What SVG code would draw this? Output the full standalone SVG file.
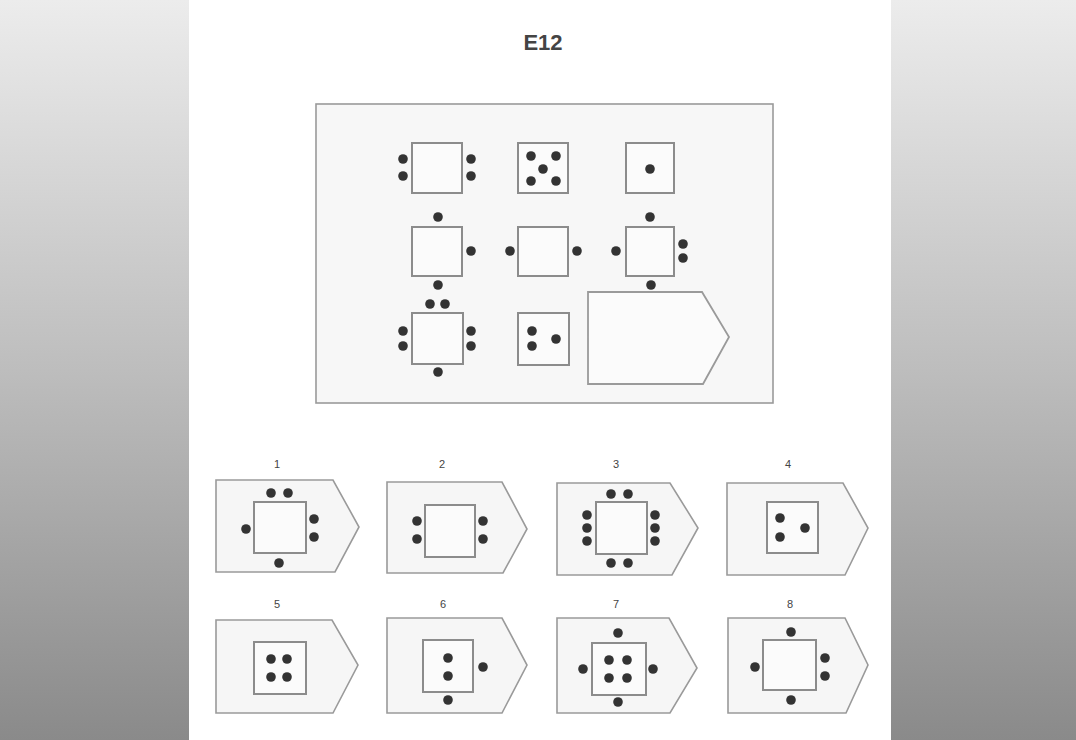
<svg xmlns="http://www.w3.org/2000/svg" width="1076" height="740" viewBox="0 0 1076 740">
<defs>
<linearGradient id="bg" x1="0" y1="0" x2="0" y2="1">
<stop offset="0" stop-color="#ececec"/>
<stop offset="0.5" stop-color="#bdbdbd"/>
<stop offset="1" stop-color="#8a8a8a"/>
</linearGradient>
<style>
.sq{fill:#fbfbfb;stroke:#8c8c8c;stroke-width:2}
.pent{fill:#f6f6f6;stroke:#9a9a9a;stroke-width:1.6}
.d{fill:#333}
.lbl{font-family:"Liberation Sans",Arial,sans-serif;font-size:11px;fill:#444;text-anchor:middle}
</style>
</defs>
<rect x="0" y="0" width="1076" height="740" fill="url(#bg)"/>
<rect x="189" y="0" width="702" height="740" fill="#ffffff"/>
<text x="543" y="50" font-family="Liberation Sans,Arial,sans-serif" font-size="22" font-weight="bold" fill="#444" text-anchor="middle">E12</text>

<g id="matrix">
<rect x="316" y="104" width="457" height="299" fill="#f7f7f7" stroke="#9a9a9a" stroke-width="1.6"/>
</g>
<g id="m1">
<rect class="sq" x="412" y="143" width="50" height="50"/>
<circle class="d" cx="403" cy="159" r="4.8"/><circle class="d" cx="403" cy="176" r="4.8"/>
<circle class="d" cx="471" cy="159" r="4.8"/><circle class="d" cx="471" cy="176" r="4.8"/>
</g>
<g id="m2">
<rect class="sq" x="518" y="143" width="50" height="50"/>
<circle class="d" cx="531" cy="156" r="4.8"/><circle class="d" cx="556" cy="156" r="4.8"/>
<circle class="d" cx="543" cy="169" r="4.8"/>
<circle class="d" cx="531" cy="181" r="4.8"/><circle class="d" cx="556" cy="181" r="4.8"/>
</g>
<g id="m3">
<rect class="sq" x="626" y="143" width="48" height="50"/>
<circle class="d" cx="650" cy="169" r="4.8"/>
</g>
<g id="m4">
<rect class="sq" x="412" y="227" width="50" height="49"/>
<circle class="d" cx="438" cy="217" r="4.8"/>
<circle class="d" cx="471" cy="251" r="4.8"/>
<circle class="d" cx="438" cy="285" r="4.8"/>
</g>
<g id="m5">
<rect class="sq" x="518" y="227" width="50" height="49"/>
<circle class="d" cx="510" cy="251" r="4.8"/>
<circle class="d" cx="577" cy="251" r="4.8"/>
</g>
<g id="m6">
<rect class="sq" x="626" y="227" width="48" height="49"/>
<circle class="d" cx="650" cy="217" r="4.8"/>
<circle class="d" cx="616" cy="251" r="4.8"/>
<circle class="d" cx="683" cy="244" r="4.8"/><circle class="d" cx="683" cy="258" r="4.8"/>
<circle class="d" cx="651" cy="285" r="4.8"/>
</g>
<g id="m7">
<rect class="sq" x="412" y="313" width="51" height="51"/>
<circle class="d" cx="430" cy="304" r="4.8"/><circle class="d" cx="445" cy="304" r="4.8"/>
<circle class="d" cx="403" cy="331" r="4.8"/><circle class="d" cx="403" cy="346" r="4.8"/>
<circle class="d" cx="471" cy="331" r="4.8"/><circle class="d" cx="471" cy="346" r="4.8"/>
<circle class="d" cx="438" cy="372" r="4.8"/>
</g>
<g id="m8">
<rect class="sq" x="518" y="313" width="51" height="52"/>
<circle class="d" cx="532" cy="331" r="4.8"/><circle class="d" cx="532" cy="346" r="4.8"/>
<circle class="d" cx="556" cy="339" r="4.8"/>
</g>
<g id="m9">
<polygon points="588,292 702,292 729,337 703,384 588,384" fill="#fbfbfb" stroke="#9a9a9a" stroke-width="1.8"/>
</g>

<g id="opt1">
<text class="lbl" x="277" y="468">1</text>
<polygon class="pent" points="216,480 333,480 359,527 335,572 216,572"/>
<rect class="sq" x="254" y="502" width="52" height="51"/>
<circle class="d" cx="271" cy="493" r="4.8"/><circle class="d" cx="288" cy="493" r="4.8"/>
<circle class="d" cx="246" cy="529" r="4.8"/>
<circle class="d" cx="314" cy="519" r="4.8"/><circle class="d" cx="314" cy="537" r="4.8"/>
<circle class="d" cx="279" cy="563" r="4.8"/>
</g>
<g id="opt2">
<text class="lbl" x="442" y="468">2</text>
<polygon class="pent" points="387,482 502,482 527,529 503,573 387,573"/>
<rect class="sq" x="425" y="505" width="50" height="52"/>
<circle class="d" cx="417" cy="521" r="4.8"/><circle class="d" cx="417" cy="539" r="4.8"/>
<circle class="d" cx="483" cy="521" r="4.8"/><circle class="d" cx="483" cy="539" r="4.8"/>
</g>
<g id="opt3">
<text class="lbl" x="616" y="468">3</text>
<polygon class="pent" points="557,483 670,483 698,528 672,575 557,575"/>
<rect class="sq" x="596" y="502" width="51" height="52"/>
<circle class="d" cx="611" cy="494" r="4.8"/><circle class="d" cx="628" cy="494" r="4.8"/>
<circle class="d" cx="611" cy="563" r="4.8"/><circle class="d" cx="628" cy="563" r="4.8"/>
<circle class="d" cx="587" cy="515" r="4.8"/><circle class="d" cx="587" cy="528" r="4.8"/><circle class="d" cx="587" cy="541" r="4.8"/>
<circle class="d" cx="655" cy="515" r="4.8"/><circle class="d" cx="655" cy="528" r="4.8"/><circle class="d" cx="655" cy="541" r="4.8"/>
</g>
<g id="opt4">
<text class="lbl" x="788" y="468">4</text>
<polygon class="pent" points="727,483 843,483 868,528 845,575 727,575"/>
<rect class="sq" x="767" y="502" width="51" height="51"/>
<circle class="d" cx="780" cy="518" r="4.8"/><circle class="d" cx="780" cy="537" r="4.8"/>
<circle class="d" cx="805" cy="528" r="4.8"/>
</g>
<g id="opt5">
<text class="lbl" x="277" y="608">5</text>
<polygon class="pent" points="216,620 332,620 358,665 333,713 216,713"/>
<rect class="sq" x="254" y="642" width="52" height="52"/>
<circle class="d" cx="271" cy="659" r="4.8"/><circle class="d" cx="287" cy="659" r="4.8"/>
<circle class="d" cx="271" cy="677" r="4.8"/><circle class="d" cx="287" cy="677" r="4.8"/>
</g>
<g id="opt6">
<text class="lbl" x="443" y="608">6</text>
<polygon class="pent" points="387,618 502,618 527,665 502,713 387,713"/>
<rect class="sq" x="423" y="640" width="50" height="52"/>
<circle class="d" cx="448" cy="658" r="4.8"/><circle class="d" cx="448" cy="676" r="4.8"/>
<circle class="d" cx="483" cy="667" r="4.8"/>
<circle class="d" cx="448" cy="700" r="4.8"/>
</g>
<g id="opt7">
<text class="lbl" x="616" y="608">7</text>
<polygon class="pent" points="557,618 669,618 697,668 670,713 557,713"/>
<rect class="sq" x="592" y="643" width="54" height="52"/>
<circle class="d" cx="618" cy="633" r="4.8"/>
<circle class="d" cx="618" cy="702" r="4.8"/>
<circle class="d" cx="583" cy="669" r="4.8"/>
<circle class="d" cx="653" cy="669" r="4.8"/>
<circle class="d" cx="609" cy="660" r="4.8"/><circle class="d" cx="627" cy="660" r="4.8"/>
<circle class="d" cx="609" cy="678" r="4.8"/><circle class="d" cx="627" cy="678" r="4.8"/>
</g>
<g id="opt8">
<text class="lbl" x="790" y="608">8</text>
<polygon class="pent" points="728,618 845,618 868,665 846,713 728,713"/>
<rect class="sq" x="763" y="640" width="53" height="50"/>
<circle class="d" cx="791" cy="632" r="4.8"/>
<circle class="d" cx="791" cy="700" r="4.8"/>
<circle class="d" cx="755" cy="667" r="4.8"/>
<circle class="d" cx="825" cy="658" r="4.8"/><circle class="d" cx="825" cy="676" r="4.8"/>
</g>
<g id="connectors"></g>
</svg>
